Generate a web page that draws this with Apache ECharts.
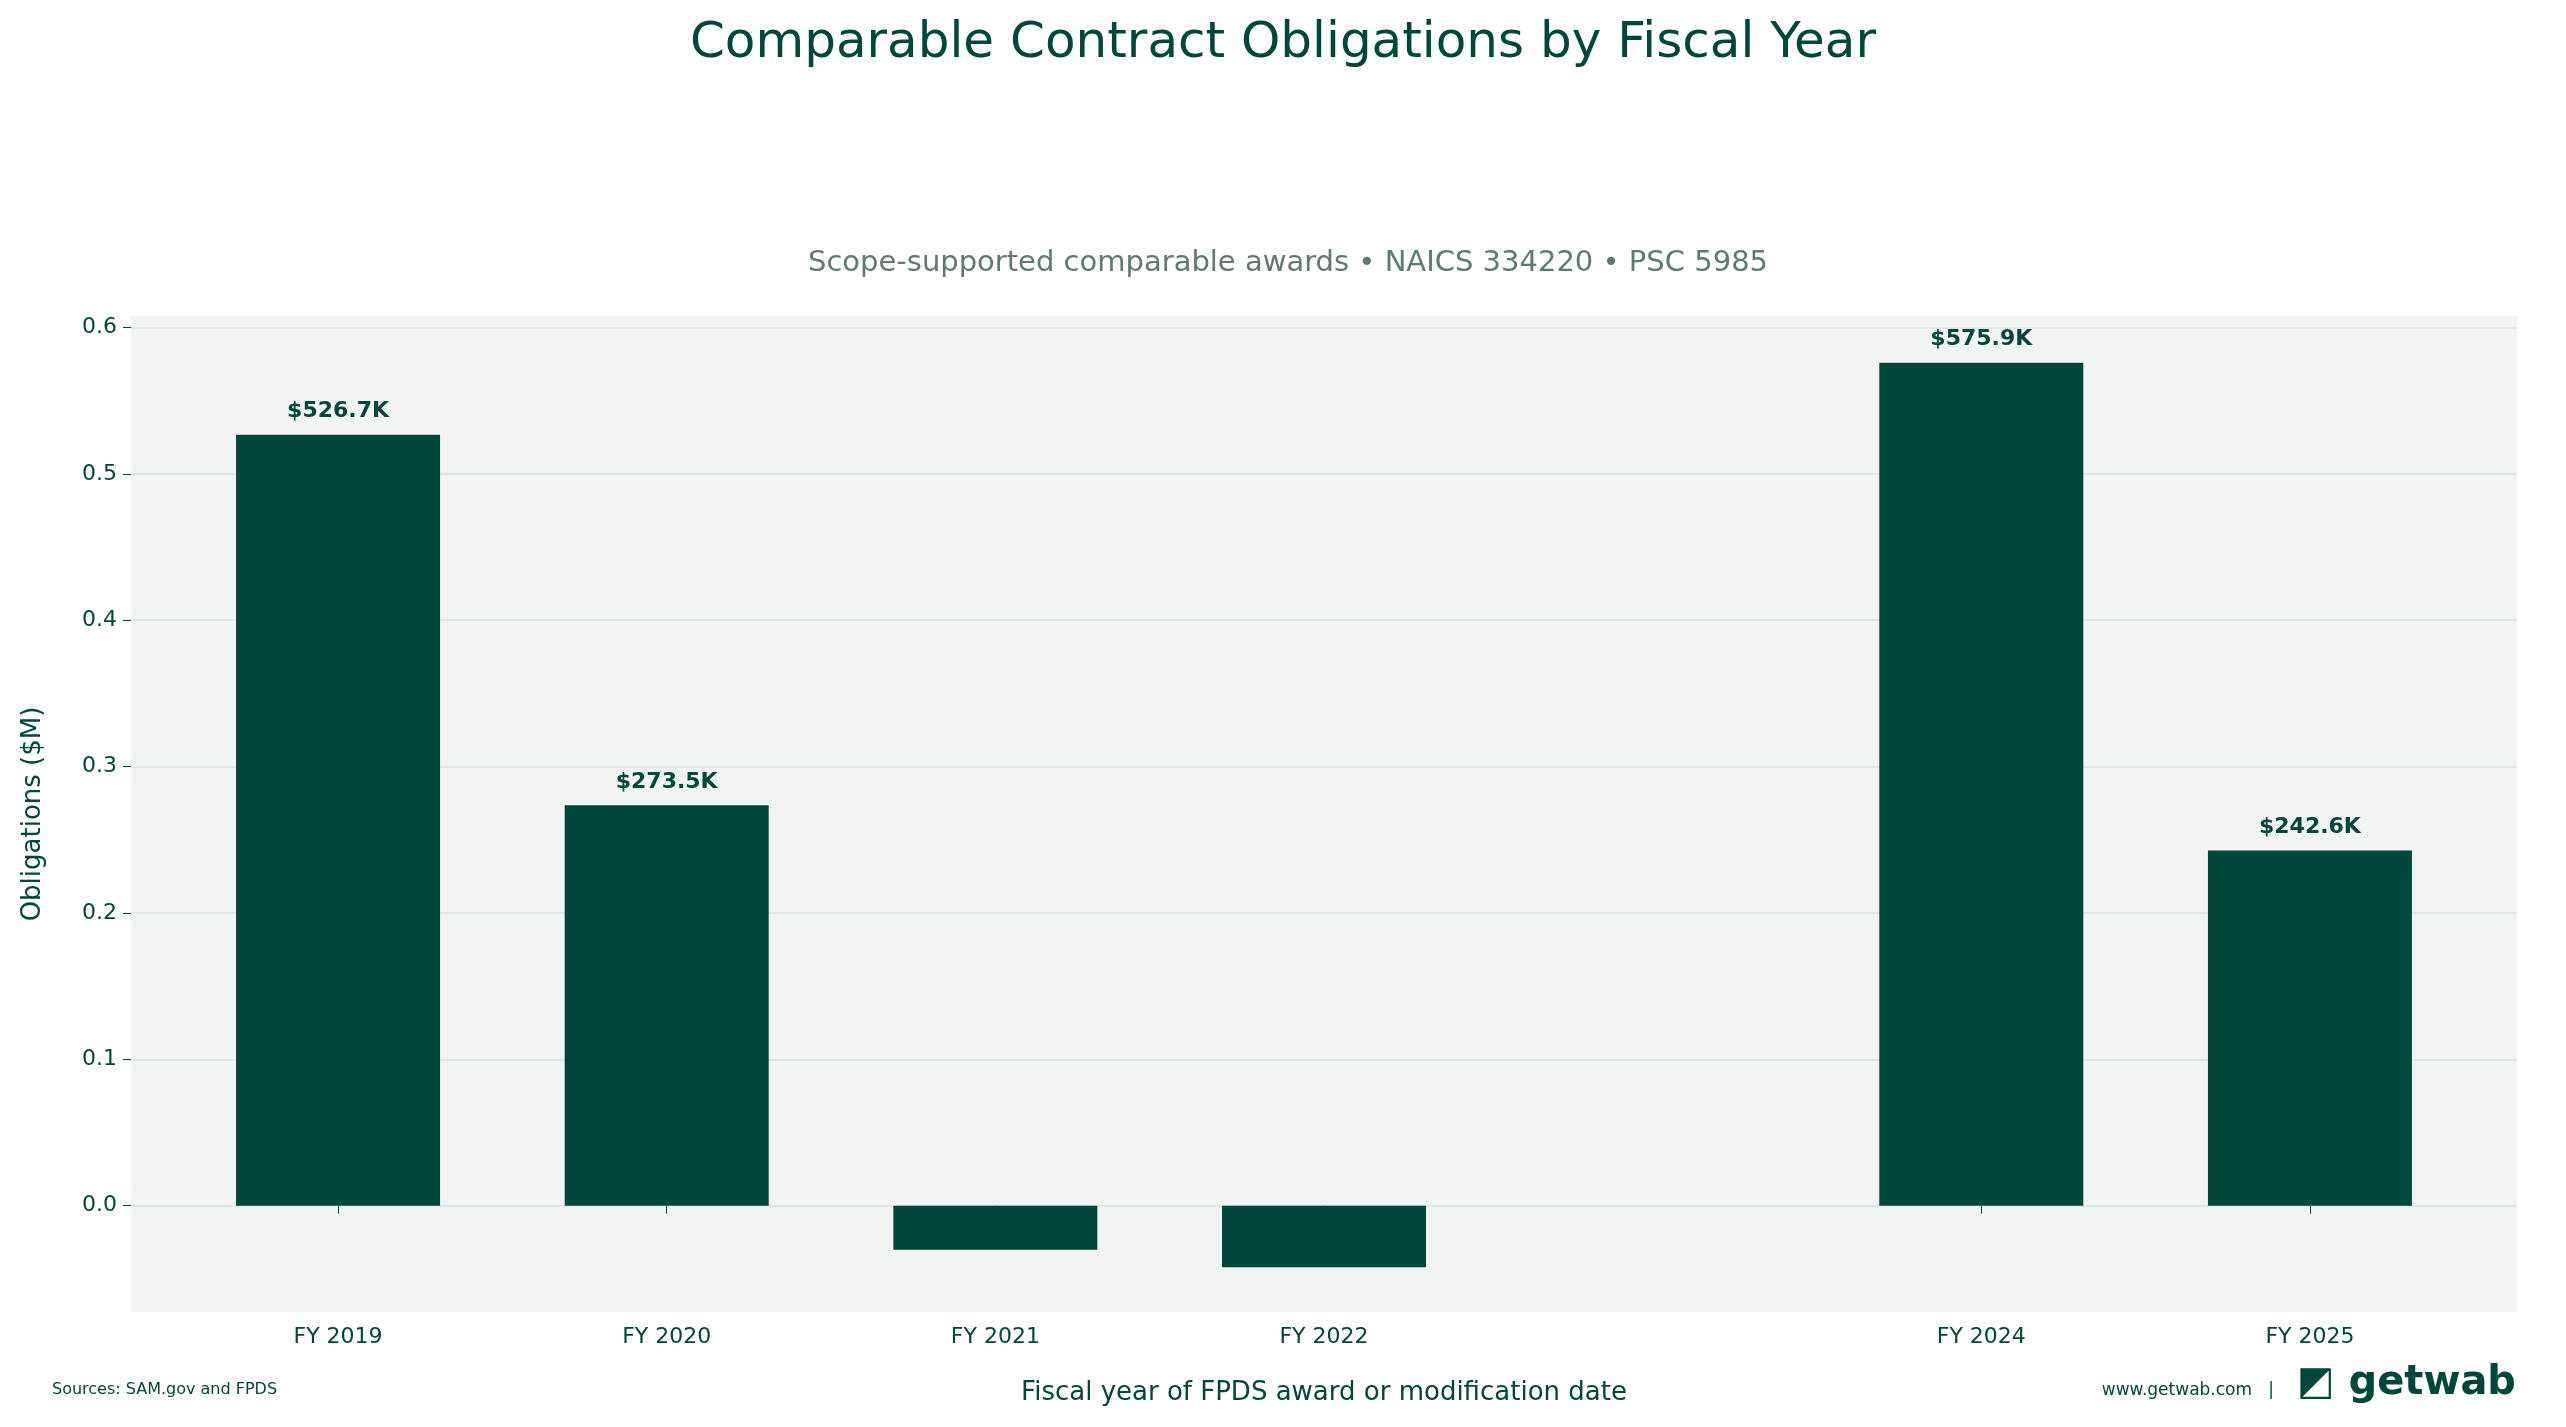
<!DOCTYPE html><html><head><meta charset="utf-8"><script src="https://cdn.jsdelivr.net/npm/echarts@6/dist/echarts.min.js"></script>
<style>html,body{margin:0;background:#fff}#c{width:2566px;height:1427px}</style></head><body><div id="c"></div><script>
const years=[2019,2020,2021,2022,2024,2025];
const tickLabels=['FY 2019','FY 2020','FY 2021','FY 2022','FY 2024','FY 2025'];
const values=[0.5267,0.2735,-0.030,-0.042,0.5759,0.2426];
const valueLabels=['$526.7K','$273.5K','','','$575.9K','$242.6K'];
const yTicks=[0,0.1,0.2,0.3,0.4,0.5,0.6];
const C='#00463a',F='DejaVu Sans';
const ch=echarts.init(document.getElementById('c'));
ch.setOption({animation:false,
title:[{text:'Comparable Contract Obligations by Fiscal Year',left:'center',top:14,textStyle:{fontFamily:F,fontSize:50,fontWeight:'normal',color:C}},
{text:'Scope-supported comparable awards • NAICS 334220 • PSC 5985',left:1283,textAlign:'center',top:244,textStyle:{fontFamily:F,fontSize:29,fontWeight:'normal',color:'#5f7a70'}}],
graphic:[{type:'text',left:52,top:1382,style:{text:'Sources: SAM.gov and FPDS',font:'16px DejaVu Sans',fill:C}},
{type:'text',right:292,top:1382,style:{text:'www.getwab.com   |',font:'17px DejaVu Sans',fill:C}},
{type:'text',right:50,top:1364,style:{text:'◩ getwab',font:'bold 40px DejaVu Sans',fill:C}}],
grid:{left:131,right:49,top:316,bottom:115,show:true,backgroundColor:'#f2f4f3',borderWidth:0},
xAxis:{type:'value',min:2018.37,max:2025.63,name:'Fiscal year of FPDS award or modification date',nameLocation:'middle',nameGap:68,nameTextStyle:{fontFamily:F,fontSize:26,color:C},
axisLine:{show:false},splitLine:{show:false},axisTick:{show:true,customValues:years,length:8,lineStyle:{color:C}},
axisLabel:{customValues:years,formatter:v=>tickLabels[years.indexOf(v)]||'',fontFamily:F,fontSize:22,color:C,margin:14}},
yAxis:{type:'value',min:-0.0726,max:0.6078,name:'Obligations ($M)',nameLocation:'middle',nameGap:85,nameTextStyle:{fontFamily:F,fontSize:26,color:C},
axisLine:{show:false},splitLine:{show:false},axisTick:{show:true,customValues:yTicks,length:8,lineStyle:{color:C}},
axisLabel:{customValues:yTicks,formatter:v=>v.toFixed(1),fontFamily:F,fontSize:22,color:C,margin:14}},
series:[{type:'bar',barWidth:204,data:years.map((y,i)=>[y,values[i]]),itemStyle:{color:C},
label:{show:true,position:'top',distance:12,formatter:p=>valueLabels[p.dataIndex],fontFamily:F,fontWeight:'bold',fontSize:22,color:C},
markLine:{silent:true,symbol:'none',label:{show:false},lineStyle:{color:'#dfe8e3',width:2,type:'solid'},data:yTicks.map(v=>({yAxis:v})),z:0}}]
});
</script></body></html>
